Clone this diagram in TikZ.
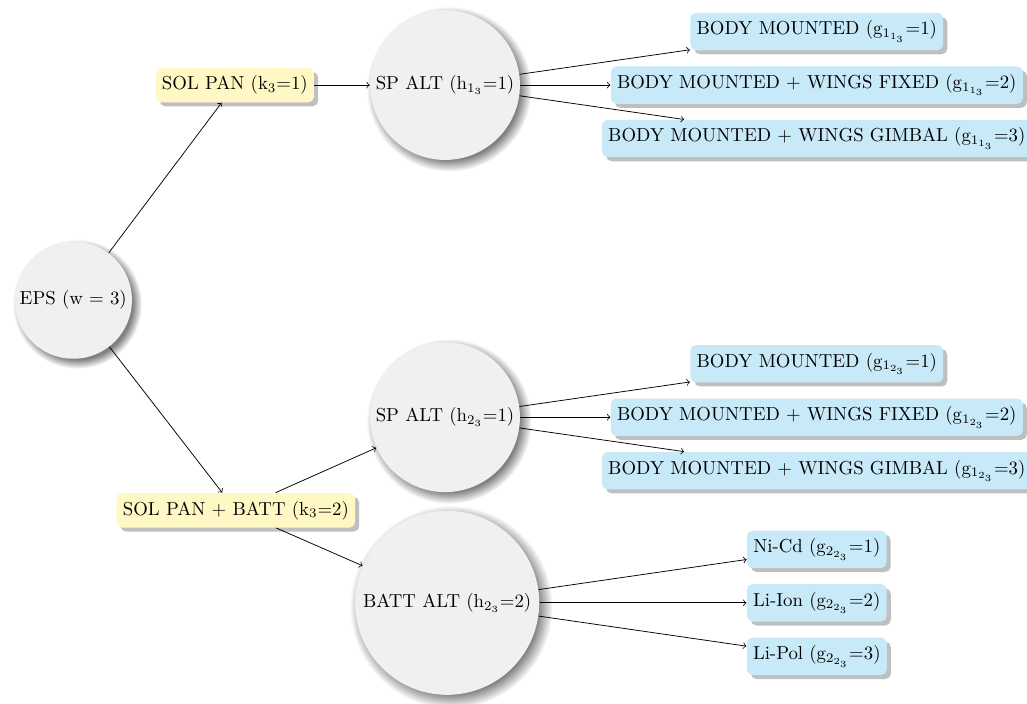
\documentclass[tikz,border=0pt]{standalone}
\usepackage[dvipsnames]{xcolor}
\usepackage{tikz}
\usetikzlibrary{arrows,shadows,positioning}

\definecolor{optyellow}{RGB}{255,248,196}
\definecolor{leafblue}{RGB}{199,233,248}

\begin{document}
\begin{tikzpicture}
		\tikzstyle{alt}=[circle, fill=gray!12, circular drop shadow={shadow xshift=.45ex, shadow yshift=-.45ex}, inner sep=2pt]
		\tikzstyle{opt}=[rectangle, rounded corners=3pt, inner ysep=4.2pt, fill=optyellow, drop shadow]
		\tikzstyle{leaf}=[rectangle, rounded corners=3pt, inner ysep=4.2pt, fill=leafblue, drop shadow]
		
		\useasboundingbox (0,0) rectangle (19.2,-13.16);
		
		% Root
		\node[alt, minimum size=2.17cm] at (1.37, -5.61) (eps) {EPS (w = 3)};
		
		% Options
		\node[opt] at (4.39, -1.59) (opt_1) {SOL PAN (k$_3$=1)};
		\node[opt] at (4.41, -9.54) (opt_2) {SOL PAN + BATT (k$_3$=2)};
		
		% Alternatives
		\node[alt, minimum size=2.8cm] at (8.32, -1.59) (sp_1) {SP ALT (h$_{1_3}$=1)};
		\node[alt, minimum size=2.8cm] at (8.32, -7.80) (sp_2) {SP ALT (h$_{2_3}$=1)};
		\node[alt, minimum size=3.44cm] at (8.36, -11.27) (batt) {BATT ALT (h$_{2_3}$=2)};
		
		% Solar panel choices
		\foreach \txt [count=\i] in {BODY MOUNTED, BODY MOUNTED + WINGS FIXED, BODY MOUNTED + WINGS GIMBAL}
		\node[leaf] at (15.27, -1.59-\i+2) (sp1_\i) {\txt{} (g$_{1_{1_3}}$=\i)};
		\foreach \txt [count=\i] in {BODY MOUNTED, BODY MOUNTED + WINGS FIXED, BODY MOUNTED + WINGS GIMBAL}
		\node[leaf] at (15.27, -7.80-\i+2) (sp2_\i) {\txt{} (g$_{1_{2_3}}$=\i)};
		
		% Battery choices
		\foreach \txt [count=\i] in {Ni-Cd, Li-Ion, Li-Pol}
		\node[leaf] at (15.27, -11.27-\i+2) (batt_\i) {\txt{} (g$_{2_{2_3}}$=\i)};
		
		% Root -> Options
		\foreach \i in {1,2}
		\draw [->] (eps) to (opt_\i);
		
		% Options -> Alternatives
		\draw [->] (opt_1) to (sp_1);
		\draw [->] (opt_2) to (sp_2);
		\draw [->] (opt_2) to (batt);
		
		% Alternatives -> Choices
		\foreach \i in {1,...,3}
		{
		\draw [->] (sp_1) to (sp1_\i);
		\draw [->] (sp_2) to (sp2_\i);
		\draw [->] (batt) to (batt_\i);
		}
		
\end{tikzpicture}
\end{document}
